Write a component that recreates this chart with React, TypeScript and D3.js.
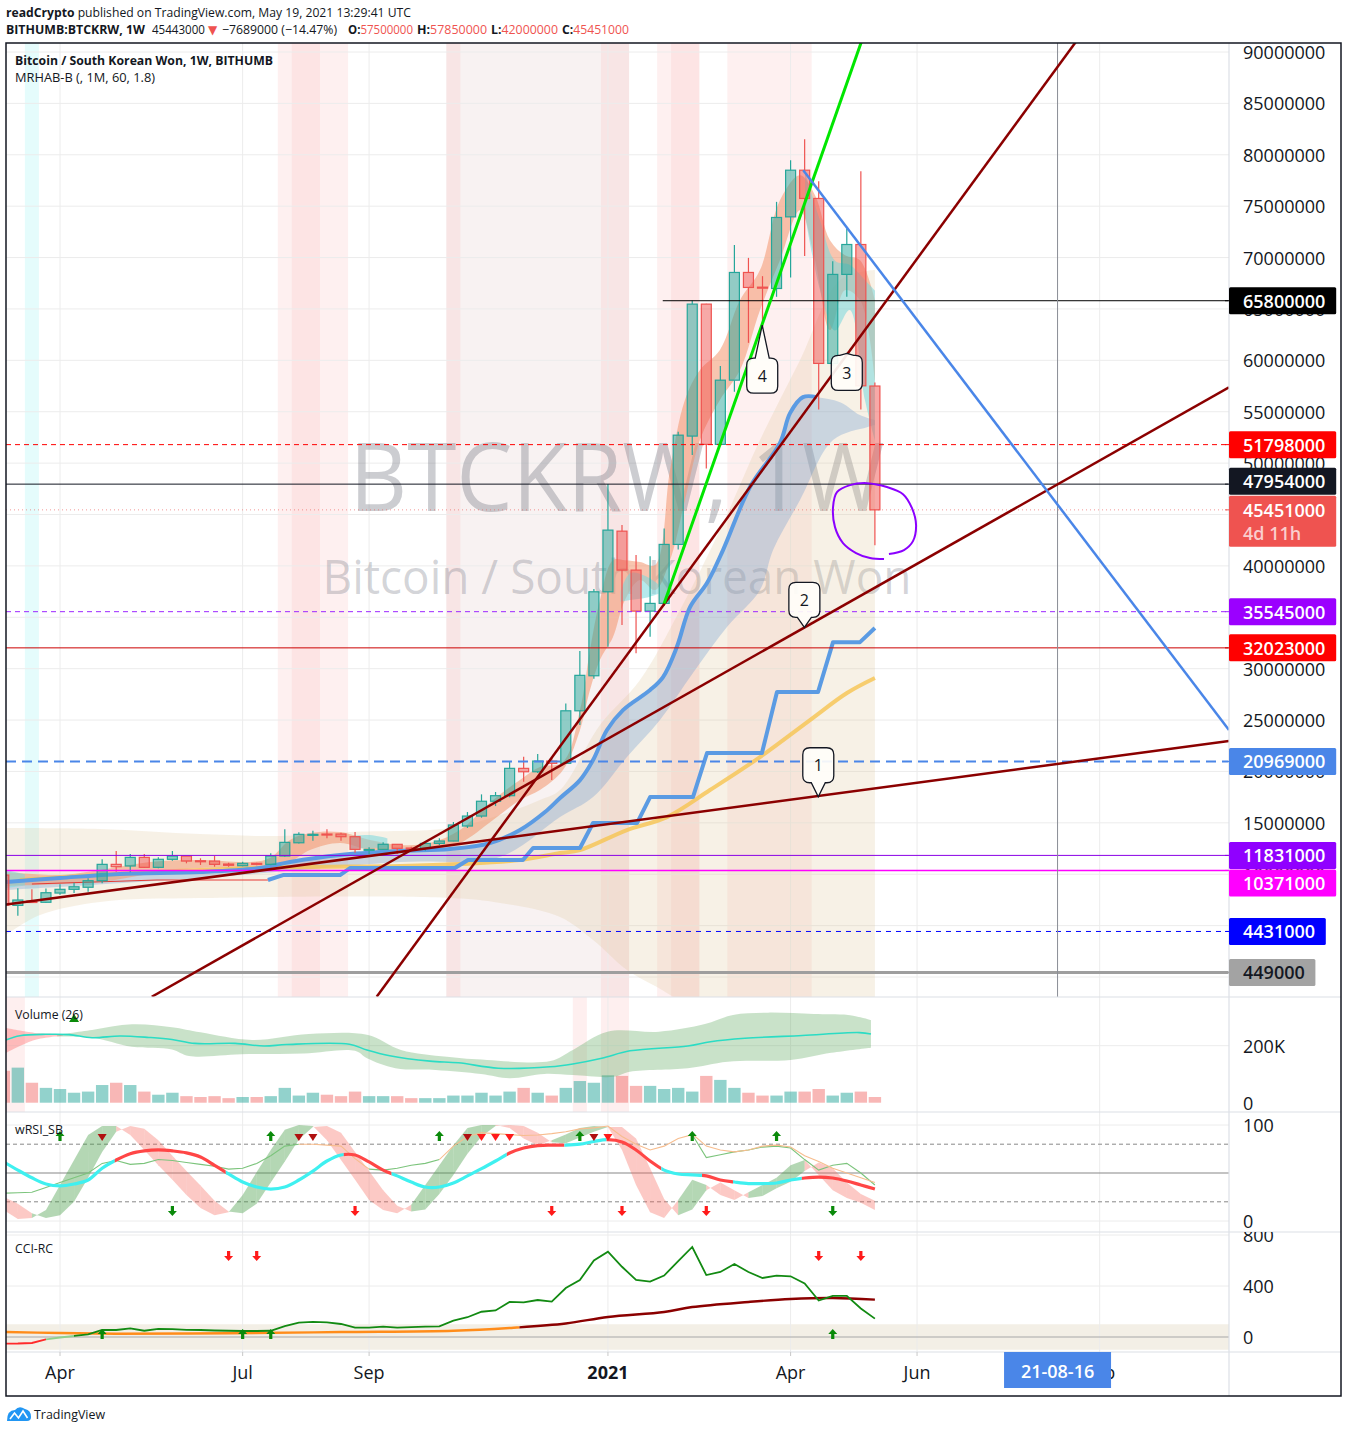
import React from "react";
import * as d3 from "d3";

// ======================= DATA =======================
// Weekly BITHUMB:BTCKRW candles; week 0 = 2020-03-09; prices in million KRW
const candleOpen = [9.92, 6.97, 7.39, 7.27, 8.17, 8.53, 8.73, 9.37, 10.96, 10.8, 11.64, 10.67, 11.45, 11.77, 11.31, 11.28, 10.99, 10.83, 11.06, 10.96, 11.77, 13.06, 13.84, 13.91, 13.91, 13.65, 12.38, 12.42, 12.91, 12.55, 12.52, 13.0, 13.23, 14.69, 15.66, 17.1, 17.64, 20.3, 19.97, 21.01, 20.79, 25.9, 29.31, 37.48, 43.38, 39.59, 35.6, 36.35, 42.09, 52.63, 65.47, 51.82, 58.07, 68.55, 67.12, 66.99, 73.96, 78.5, 75.75, 59.7, 68.36, 71.27, 57.5];
const candleHigh = [10.2, 8.63, 8.53, 8.61, 9.02, 9.17, 9.6, 11.45, 12.26, 11.96, 11.96, 11.64, 12.26, 11.77, 11.55, 11.77, 11.12, 11.22, 11.12, 12.03, 14.37, 14.08, 14.23, 14.37, 14.04, 14.1, 12.62, 13.1, 12.94, 12.68, 13.16, 13.49, 15.08, 16.05, 17.77, 18.0, 21.01, 21.43, 21.69, 21.3, 26.62, 31.71, 37.74, 47.96, 43.97, 41.05, 40.95, 43.65, 53.05, 65.81, 65.5, 59.44, 71.21, 69.97, 68.19, 75.42, 79.47, 81.52, 77.43, 69.65, 72.83, 78.4, 57.85];
const candleLow = [6.2, 5.96, 7.2, 7.2, 8.0, 8.17, 8.3, 9.11, 10.24, 10.18, 10.6, 10.57, 11.31, 11.06, 10.9, 10.73, 10.73, 10.77, 10.87, 10.87, 11.7, 13.0, 13.26, 13.49, 13.26, 12.09, 11.96, 12.35, 11.96, 12.35, 12.29, 12.84, 13.2, 14.5, 15.5, 16.63, 17.5, 19.0, 19.84, 19.16, 20.79, 24.51, 29.02, 32.13, 34.24, 31.49, 33.1, 36.09, 41.6, 50.78, 49.48, 51.65, 56.94, 61.7, 63.26, 66.18, 68.06, 70.14, 55.22, 59.44, 66.18, 55.22, 42.0];
const candleClose = [7.0, 7.49, 7.25, 8.2, 8.53, 8.78, 9.37, 10.96, 10.73, 11.64, 10.67, 11.45, 11.77, 11.28, 11.25, 10.96, 10.87, 11.06, 10.96, 11.77, 13.1, 13.88, 13.88, 13.84, 13.65, 12.42, 12.42, 12.91, 12.52, 12.52, 13.0, 13.23, 14.79, 15.66, 17.1, 17.64, 20.3, 19.97, 21.01, 20.79, 25.9, 29.35, 37.48, 43.48, 39.59, 35.6, 36.35, 42.09, 52.72, 65.47, 51.82, 58.07, 68.55, 67.09, 67.06, 73.9, 78.5, 75.75, 59.7, 68.36, 71.27, 57.52, 45.451];
// Volume in thousands
const volumeK = [112, 123, 70, 52, 48, 35, 39, 62, 70, 62, 39, 28, 35, 23, 20, 23, 16, 20, 20, 23, 52, 25, 35, 28, 23, 39, 23, 23, 23, 16, 16, 16, 25, 25, 35, 25, 39, 52, 35, 25, 52, 76, 70, 96, 94, 59, 59, 48, 52, 39, 94, 80, 52, 35, 25, 25, 39, 39, 48, 25, 35, 39, 20];

// axes
const priceTicks = [0, 5, 10, 15, 20, 25, 30, 35, 40, 45, 50, 55, 60, 65, 70, 75, 80, 85, 90];
const timeTickWeeks = [4, 17, 26, 43, 56, 65, 78];
const timeTickLabels = ["Apr", "Jul", "Sep", "2021", "Apr", "Jun", "Sep"];
const cursorWeek = 75;
const cursorLabel = "21-08-16";

// horizontal levels
const levelPrices = [65.8, 51.798, 47.954, 45.451, 35.545, 32.023, 20.969, 11.831, 10.371, 4.431, 0.449];
const levelLabels = ["65800000", "51798000", "47954000", "45451000", "35545000", "32023000", "20969000", "11831000", "10371000", "4431000", "449000"];
const levelStartWeek = [46.9, -2, -2, -2, -2, -2, -2, -2, -2, -2, -2];
const levelLineColors = ["#000000", "#ff0000", "#131722", "#ef5350", "#9c27ff", "#cc0000", "#4a86e8", "#8a00e6", "#ff00ff", "#0000ff", "#9e9e9e"];
const levelBoxColors = ["#000000", "#ff0000", "#131722", "#ef5350", "#9b00ff", "#ff0000", "#4a86e8", "#9000ff", "#ff00ff", "#0000ff", "#a3a3a3"];

// trend lines (week, price M)
const trendStartWeek = [0.157, 10.53, 26.54, 47.0, 56.9];
const trendStartPrice = [7.05, -1.92, -1.92, 36.35, 78.5];
const trendEndWeek = [87.2, 87.2, 76.5, 61.5, 87.2];
const trendEndPrice = [22.96, 57.37, 91.35, 92.79, 24.03];
const trendColors = ["#8b0000", "#8b0000", "#8b0000", "#00e600", "#4a86e8"];

// MRHAB-B bands
const tanUpW = [0.16, 6.85, 13.96, 19.66, 24.64, 31.76, 35.32, 38.16, 39.59, 42.43, 45.28, 48.13, 50.97, 53.82, 56.67, 59.52, 62.0];
const tanUpP = [14.49, 14.4, 13.91, 13.72, 14.1, 14.49, 15.76, 17.22, 18.19, 24.51, 28.89, 35.7, 43.48, 52.24, 60.02, 67.8, 68.78];
const tanLoW = [0.16, 2.58, 6.85, 13.96, 31.76, 35.32, 39.59, 41.94, 44.35, 46.49, 49.05, 62.0];
const tanLoP = [4.09, 6.03, 7.3, 7.68, 7.68, 7.2, 5.84, 3.6, 0.68, -0.97, -2.72, -3.21];

const blueW = [0.16, 4.0, 8.27, 13.96, 18.24, 20.37, 23.93, 28.2, 31.76, 34.6, 36.74, 38.52, 39.59, 41.01, 41.94, 42.93, 44.07, 46.0, 46.92, 47.9, 48.84, 50.05, 51.19, 53.11, 55.24, 55.96, 56.88, 57.88];
const blueP = [9.24, 9.63, 10.02, 10.21, 10.6, 11.19, 11.87, 12.26, 12.45, 13.03, 14.3, 16.05, 17.41, 19.16, 21.11, 24.03, 25.97, 27.92, 29.18, 32.1, 35.99, 38.33, 41.54, 47.67, 51.95, 54.86, 56.42, 56.42];
const blueBandExtW = [59.52, 60.94, 62.0];
const blueBandExtP = [55.93, 54.67, 54.18];
const blueLoW = [0.16, 13.96, 28.2, 35.3, 39.59, 41.94, 44.35, 46.7, 49.05, 51.47, 53.82, 54.75, 56.67, 59.02, 61.44, 62.0];
const blueLoP = [8.46, 9.63, 11.19, 11.67, 15.56, 17.51, 21.4, 25.0, 29.57, 34.05, 37.65, 41.54, 46.4, 52.24, 53.5, 53.7];

const salmonW = [0.16, 4.0, 6.85, 10.4, 13.96, 17.52, 18.95, 20.37, 21.79, 23.93, 26.06, 28.2, 30.33, 32.47, 34.82, 36.74, 38.16, 39.8, 41.01, 41.72, 42.43, 43.36, 44.21, 45.28, 46.35, 47.42, 48.48, 49.55, 50.97, 52.4, 53.82, 55.24, 56.67, 57.74, 58.8, 59.87, 60.94, 62.0];
const salmonHi = [10.21, 9.92, 10.41, 11.19, 11.38, 11.19, 11.58, 13.33, 14.0, 14.1, 13.33, 12.84, 13.03, 14.3, 17.22, 19.16, 20.43, 20.91, 25.97, 31.8, 36.67, 40.56, 40.56, 40.37, 40.08, 49.32, 56.13, 59.05, 61.0, 65.86, 68.78, 75.58, 78.02, 76.07, 71.69, 70.23, 69.75, 65.86];
const salmonLo = [8.85, 9.05, 9.24, 10.02, 10.6, 10.6, 10.8, 11.19, 12.35, 13.03, 12.35, 12.16, 12.35, 13.03, 15.27, 17.22, 18.19, 20.14, 24.03, 27.92, 30.84, 33.07, 36.67, 38.62, 37.65, 40.56, 46.4, 52.24, 56.13, 59.05, 64.88, 69.75, 74.61, 69.75, 62.94, 66.83, 65.86, 58.07];

const cyanW = [[0.16, 1.5], [24.64, 26.06, 27.3], [43.9, 44.6, 45.7, 46.6], [57.03, 58.1, 59.16, 60.2, 61.3, 62.0]];
const cyanHi = [[10.41, 10.0], [13.72, 13.82, 13.5], [37.5, 39.3, 39.0, 38.2], [78.3, 73.6, 69.7, 69.3, 67.8, 66.8]];
const cyanLo = [[8.66, 8.9], [12.45, 12.55, 12.6], [36.5, 36.67, 36.9, 37.3], [74.1, 66.8, 62.9, 64.9, 56.1, 52.2]];

const yellowW = [1.15, 6.85, 13.96, 21.08, 28.2, 32.47, 36.74, 39.59, 41.01, 44.35, 47.2, 50.26, 53.82, 57.38, 60.01, 62.0];
const yellowP = [9.44, 9.92, 10.41, 10.7, 10.8, 10.99, 11.38, 12.06, 12.35, 14.3, 15.56, 18.19, 21.4, 25.0, 27.63, 29.09];
const stepW = [18.8, 19.87, 23.93, 24.64, 32.11, 33.04, 36.95, 37.67, 41.01, 41.94, 45.07, 46.0, 49.05, 50.05, 53.96, 55.03, 57.95, 59.02, 60.94, 62.0];
const stepP = [9.44, 9.92, 9.92, 10.6, 10.6, 11.38, 11.38, 12.55, 12.55, 14.98, 14.98, 17.51, 17.51, 21.79, 21.79, 27.72, 27.72, 32.58, 32.58, 33.95];
const redThinW = [2.0, 10.9, 18.8];
const redThinP = [9.05, 9.44, 9.44];

// background highlight columns (week ranges)
const bgBandStart = [19.5, 20.5, 31.5, 31.5, 42.5, 46.5, 47.5, 51.5];
const bgBandEnd = [24.5, 22.5, 44.5, 32.5, 44.5, 49.5, 49.5, 57.5];
const cyanColStart = [1.5];
const cyanColEnd = [2.5];
const volBgStart = [-0.5, 40.5, 42.5];
const volBgEnd = [1.5, 41.5, 44.5];

// drawings
const calloutLabels = ["1", "2", "3", "4"];
const calloutWeeks = [57.97, 56.98, 60.0, 53.98];
const calloutPrices = [17.54, 34.02, 60.67, 63.42];
const calloutBelow = [false, false, true, true];
const calloutStem = [14, 10, 2, 33];
const ellipseW = [62.65, 61.65, 60.66, 59.73, 59.16, 59.02, 59.3, 60.23, 61.44, 62.86, 64.0, 64.64, 64.93, 64.71, 64.07, 63.0];
const ellipseP = [40.66, 40.76, 41.25, 42.22, 43.77, 45.72, 47.18, 47.86, 48.05, 47.67, 46.98, 45.62, 43.97, 42.41, 41.54, 41.15];

// volume indicator
const volMaW = [0.14, 1.15, 3.0, 4.64, 6.28, 8.27, 10.33, 11.97, 13.6, 16.46, 18.52, 20.12, 24.6, 25.84, 27.47, 30.33, 32.36, 35.2, 38.88, 40.5, 42.56, 44.57, 48.68, 50.3, 52.75, 56.83, 60.9, 61.72];
const volMaV = [220, 235, 240, 239, 228, 234, 229, 222, 208, 208, 199, 204, 205, 185, 165, 146, 140, 121, 126, 136, 156, 182, 199, 214, 226, 236, 246, 241];
const volBandUpW = [3.8, 6.28, 9.12, 11.97, 14.0, 17.67, 21.72, 25.85, 28.27, 31.54, 34.4, 38.9, 40.5, 42.96, 46.63, 49.9, 51.9, 54.4, 57.66, 60.1, 61.72];
const volBandUpV = [238, 255, 275, 265, 247, 220, 241, 238, 185, 161, 150, 146, 185, 249, 249, 276, 308, 316, 311, 308, 290];
const volBandLoW = [3.8, 6.28, 9.12, 11.97, 13.18, 16.9, 21.35, 25.0, 25.85, 27.87, 30.73, 33.97, 36.0, 38.48, 40.5, 43.36, 44.57, 48.68, 51.53, 56.0, 58.9, 61.72];
const volBandLoV = [232, 229, 196, 187, 164, 170, 173, 182, 156, 121, 115, 101, 86, 101, 97, 91, 109, 121, 144, 150, 175, 193];
const volRedW = [0.14, 2.2, 4.2];
const volRedHi = [262, 245, 241];
const volRedLo = [174, 220, 235];
const volTriWeeks = [5];

// wRSI_SB
const rsiMain = [61.5, 53, 45, 38.5, 36.5, 38.5, 42.7, 55, 63.5, 70, 73, 74, 73, 71, 66.7, 58, 49, 40.6, 35.4, 33.3, 35.4, 42.7, 52, 62.5, 68.75, 68.75, 61.5, 53, 47, 40.6, 35.4, 35.4, 39.6, 47, 54.5, 62.5, 70.8, 76, 78.6, 79, 79, 80, 82.8, 84.7, 82.3, 74, 62.5, 53, 49, 48, 47, 42.7, 40.6, 39, 39, 39.6, 42.7, 44.8, 45.8, 44.8, 41.7, 37.5, 33.3];
const rsiMainBreaks = [0, 7.9, 15.8, 24.2, 27.6, 35.8, 39.9, 42.9, 46.8, 49.7, 51.9, 56.8, 62];
const rsiK = [11.5, 2, 3, 11.5, 37.5, 63.5, 89.6, 99, 99, 89.6, 74, 58, 43, 27, 13.5, 6, 9, 27, 51, 74, 95, 100, 99, 84, 63.5, 43, 22, 11.5, 8, 17, 37.5, 58, 79, 97, 100, 100, 97, 86, 79, 84, 90, 97, 99, 98, 74, 37.5, 9, 3, 22, 43, 37.5, 27, 22, 30, 37.5, 45, 58, 63.5, 48, 32, 24, 19, 11.5];
const rsiD = [25, 18, 8, 3, 6, 20, 45, 72, 93, 99, 96, 84, 68, 52, 37, 21, 10, 8, 18, 40, 62, 85, 98, 99, 92, 72, 52, 32, 16, 10, 12, 28, 48, 70, 88, 99, 100, 99, 92, 82, 81, 87, 93, 98, 98, 86, 55, 23, 6, 12, 32, 40, 32, 24, 26, 34, 41, 52, 61, 55, 40, 28, 21];
const rsiThin = [29, 29.5, 30, 35, 40, 45, 50, 60, 63, 59, 60, 64, 63, 61, 59, 57, 54, 55, 60, 68, 78, 80, 80, 79, 78, 65, 54, 53, 55, 58, 60, 64, 78, 88, 92, 91, 90, 89, 89.6, 91, 93, 96, 97, 99, 88, 80, 74, 78, 86, 90, 66, 69, 72, 74, 77, 78, 76, 64, 53, 58, 60, 50, 37.5];
const rsiThinBreaks = [0, 21, 26, 31, 49, 62];
const rsiThin2W = [49, 50, 51, 52, 53, 54, 55, 56, 57, 58, 59, 60, 61, 62];
const rsiThin2 = [90.6, 78, 74, 72, 74, 78, 79, 77, 68, 62, 55, 50, 45, 40];
const rsiUpArrowWeeks = [4, 19, 31, 41, 49, 55];
const rsiTopTriWeeks = [7, 21, 22, 33, 34, 35, 36, 42, 43];
const rsiBottomGreenWeeks = [12, 59];
const rsiBottomRedWeeks = [25, 39, 44, 50];

// CCI-RC
const cciVals = [-52, -51, -47, -18, -4, 8, 20, 55, 55, 68, 49, 64, 61, 56, 55, 51, 49, 47, 47, 49, 86, 112, 118, 114, 102, 73, 73, 81, 73, 78, 82, 84, 128, 155, 198, 208, 275, 271, 290, 278, 384, 447, 600, 669, 551, 447, 435, 482, 596, 706, 486, 510, 573, 510, 463, 482, 476, 420, 286, 322, 322, 224, 144];
const cciBreaks = [0, 3, 5, 62];
const cciSigW = [0, 4, 8, 16, 24, 32, 36, 40, 43, 47, 49, 53, 56, 59, 62];
const cciSigV = [39, 31, 26, 29, 39, 49, 71, 106, 157, 196, 235, 275, 298, 306, 293];
const cciSigBreaks = [0, 36.7, 62];
const cciRedDownWeeks = [16, 18, 58, 61];
const cciGreenUpWeeks = [7, 17, 19, 59];

// ======================= STYLE =======================
const FONT = "'Open Sans', 'DejaVu Sans', Arial, sans-serif";
const TXT = "#131722";
const UP_F = "rgba(38,166,154,0.5)";
const UP_S = "#26a69a";
const DN_F = "rgba(239,83,80,0.5)";
const DN_S = "#ef5350";
const L = 6, R = 1229, RB = 1341;
const MT = 43, MB = 997, VB = 1112, RSB = 1232, CB = 1352, AB = 1396;

export default function App() {
  const x = d3.scaleLinear().domain([0, 1]).range([3.8, 17.85]);
  const y = d3.scaleLinear().domain([0, 90]).range([977, 52]);
  const yV = d3.scaleLinear().domain([0, 200]).range([1102.7, 1045.7]);
  const yR = d3.scaleLinear().domain([0, 100]).range([1221, 1125]);
  const yC = d3.scaleLinear().domain([0, 400]).range([1337, 1286]);

  const smooth = d3.line().curve(d3.curveCatmullRom.alpha(0.5));
  const straight = d3.line();
  const pts = (ws, vs, sc) => ws.map((w, i) => [x(w), sc(vs[i])]);
  const poly = (a, b) => {
    const s1 = smooth(a);
    const s2 = smooth(b.slice().reverse());
    return s1 + "L" + s2.slice(1) + "Z";
  };
  const area = (ws, hi, lo, sc) =>
    d3.area().x((d) => x(d[0])).y0((d) => sc(d[2])).y1((d) => sc(d[1])).curve(d3.curveCatmullRom.alpha(0.5))(
      ws.map((w, i) => [w, hi[i], lo[i]])
    );

  const segClips = (prefix, breaks, top, h) =>
    breaks.slice(0, -1).map((b, k) => {
      const x0 = k === 0 ? L : x(b);
      const x1 = k === breaks.length - 2 ? R : x(breaks[k + 1]);
      return (
        <clipPath key={prefix + k} id={prefix + k}>
          <rect x={x0} y={top} width={x1 - x0} height={h} />
        </clipPath>
      );
    });

  const weeks = d3.range(candleOpen.length);

  const rsiMainPath = smooth(weeks.map((i) => [x(i), yR(rsiMain[i])]));
  const rsiThinPath = straight(weeks.map((i) => [x(i), yR(rsiThin[i])]));
  const rsiThin2Path = straight(pts(rsiThin2W, rsiThin2, yR));
  const cciPath = straight(weeks.map((i) => [x(i), yC(cciVals[i])]));
  const cciSigPath = smooth(pts(cciSigW, cciSigV, yC));

  const rsiColors = ["#3ff0f0", "#ff4646"];
  const thinColors = ["#7cc47c", "#f7bd8e", "#7cc47c", "#f7bd8e", "#7cc47c"];
  const cciColors = ["#ff2a2a", "#8fd18f", "#128a12"];
  const cciSigColors = ["#ff8c1a", "#8b0000"];

  const calloutPath = (tx, ty, stem, below) => {
    const w = 31, h = 35, r = 7, hw = w / 2, nb = 7;
    const x0 = tx - hw, x1 = tx + hw;
    if (!below) {
      const yb = ty - stem, yt = yb - h;
      return `M${x0 + r},${yt}H${x1 - r}Q${x1},${yt} ${x1},${yt + r}V${yb - r}Q${x1},${yb} ${x1 - r},${yb}H${tx + nb}L${tx},${ty}L${tx - nb},${yb}H${x0 + r}Q${x0},${yb} ${x0},${yb - r}V${yt + r}Q${x0},${yt} ${x0 + r},${yt}Z`;
    }
    const yt = ty + stem, yb = yt + h;
    return `M${x0 + r},${yt}H${tx - nb}L${tx},${ty}L${tx + nb},${yt}H${x1 - r}Q${x1},${yt} ${x1},${yt + r}V${yb - r}Q${x1},${yb} ${x1 - r},${yb}H${x0 + r}Q${x0},${yb} ${x0},${yb - r}V${yt + r}Q${x0},${yt} ${x0 + r},${yt}Z`;
  };

  const upArrow = (cx, ty, color, key) => (
    <path key={key} d={`M${cx - 4.5},${ty + 5}L${cx},${ty}L${cx + 4.5},${ty + 5}H${cx + 1.6}V${ty + 10}H${cx - 1.6}V${ty + 5}Z`} fill={color} />
  );
  const downArrow = (cx, ty, color, key) => (
    <path key={key} d={`M${cx - 1.6},${ty}H${cx + 1.6}V${ty + 5}H${cx + 4.5}L${cx},${ty + 10}L${cx - 4.5},${ty + 5}H${cx - 1.6}Z`} fill={color} />
  );
  const downTri = (cx, ty, color, key) => (
    <path key={key} d={`M${cx - 4.5},${ty}H${cx + 4.5}L${cx},${ty + 7}Z`} fill={color} />
  );

  const gridColor = "#ececec";

  return (
    <svg width={1348} height={1433} style={{ position: "absolute", left: 0, top: 0, background: "#fff" }} fontFamily={FONT}>
      <defs>
        <clipPath id="cMain"><rect x={L} y={MT} width={R - L} height={MB - MT} /></clipPath>
        <clipPath id="cVol"><rect x={L} y={MB} width={R - L} height={VB - MB} /></clipPath>
        <clipPath id="cRsi"><rect x={L} y={VB} width={R - L} height={RSB - VB} /></clipPath>
        <clipPath id="cCci"><rect x={L} y={RSB} width={R - L} height={CB - RSB} /></clipPath>
        <clipPath id="cAxisC"><rect x={R} y={RSB} width={RB - R} height={CB - RSB} /></clipPath>
        {segClips("rsiSeg", rsiMainBreaks, VB, RSB - VB)}
        {segClips("thinSeg", rsiThinBreaks, VB, RSB - VB)}
        {segClips("cciSeg", cciBreaks, RSB, CB - RSB)}
        {segClips("sigSeg", cciSigBreaks, RSB, CB - RSB)}
      </defs>
      <rect x={0} y={0} width={1348} height={1433} fill="#fff" />

      {/* ===== header ===== */}
      <text x={6} y={17} fontSize={12.5} fill={TXT} textLength={405} lengthAdjust="spacingAndGlyphs">
        <tspan fontWeight={700}>readCrypto</tspan> published on TradingView.com, May 19, 2021 13:29:41 UTC
      </text>
      <g fontSize={12.5} fill={TXT}>
        <text x={6} y={34} fontWeight={700} textLength={139} lengthAdjust="spacingAndGlyphs">BITHUMB:BTCKRW, 1W</text>
        <text x={152} y={34} textLength={53} lengthAdjust="spacingAndGlyphs">45443000</text>
        <text x={208} y={34} fill="#ef5350" fontSize={12}>▼</text>
        <text x={222} y={34} textLength={115} lengthAdjust="spacingAndGlyphs">−7689000 (−14.47%)</text>
        <text x={348} y={34} textLength={65} lengthAdjust="spacingAndGlyphs"><tspan fontWeight={700}>O:</tspan><tspan fill="#ef5350">57500000</tspan></text>
        <text x={417} y={34} textLength={70} lengthAdjust="spacingAndGlyphs"><tspan fontWeight={700}>H:</tspan><tspan fill="#ef5350">57850000</tspan></text>
        <text x={491} y={34} textLength={67} lengthAdjust="spacingAndGlyphs"><tspan fontWeight={700}>L:</tspan><tspan fill="#ef5350">42000000</tspan></text>
        <text x={562} y={34} textLength={67} lengthAdjust="spacingAndGlyphs"><tspan fontWeight={700}>C:</tspan><tspan fill="#ef5350">45451000</tspan></text>
      </g>

      {/* ===== MAIN PANE ===== */}
      <g clipPath="url(#cMain)">
        {bgBandStart.map((s, k) => (
          <rect key={"bg" + k} x={x(s)} y={MT} width={x(bgBandEnd[k]) - x(s)} height={MB - MT} fill={k === 2 ? "rgba(215,180,180,0.17)" : "rgba(250,180,180,0.2)"} />
        ))}
        {cyanColStart.map((s, k) => (
          <rect key={"cc" + k} x={x(s)} y={MT} width={x(cyanColEnd[k]) - x(s)} height={MB - MT} fill="rgba(170,245,245,0.3)" />
        ))}
        {priceTicks.map((p) => (
          <line key={"hg" + p} x1={L} x2={R} y1={y(p)} y2={y(p)} stroke={gridColor} />
        ))}
        {timeTickWeeks.map((w) => (
          <line key={"vg" + w} x1={x(w)} x2={x(w)} y1={MT} y2={MB} stroke={gridColor} />
        ))}

        {/* watermark */}
        <text x={617} y={511} textAnchor="middle" fontSize={95} fill="rgba(120,123,134,0.38)" textLength={535} lengthAdjust="spacingAndGlyphs">BTCKRW, 1W</text>
        <text x={617} y={594} textAnchor="middle" fontSize={47} fill="rgba(120,123,134,0.33)" textLength={589} lengthAdjust="spacingAndGlyphs">Bitcoin / South Korean Won</text>

        {/* bands */}
        <path d={poly(pts(tanUpW, tanUpP, y), pts(tanLoW, tanLoP, y))} fill="rgba(222,196,150,0.24)" />
        <path d={poly(pts(blueW.concat(blueBandExtW), blueP.concat(blueBandExtP), y), pts(blueLoW, blueLoP, y))} fill="rgba(100,150,210,0.3)" />
        <path d={area(salmonW, salmonHi, salmonLo, y)} fill="rgba(243,150,110,0.55)" />
        {cyanW.map((ws, k) => (
          <path key={"cy" + k} d={area(ws, cyanHi[k], cyanLo[k], y)} fill="rgba(120,215,220,0.55)" />
        ))}
        <path d={straight(pts(redThinW, redThinP, y))} fill="none" stroke="#e53935" strokeWidth={1.2} />
        <path d={smooth(pts(yellowW, yellowP, y))} fill="none" stroke="rgba(246,196,80,0.8)" strokeWidth={4} />
        <path d={straight(pts(stepW, stepP, y))} fill="none" stroke="#5b9be3" strokeWidth={4} strokeLinejoin="round" />
        <path d={smooth(pts(blueW, blueP, y))} fill="none" stroke="#5b9be3" strokeWidth={4} strokeLinejoin="round" />

        {/* candles */}
        {weeks.map((i) => {
          const up = candleClose[i] >= candleOpen[i];
          const cx = x(i);
          const yo = y(candleOpen[i]), yc = y(candleClose[i]);
          const top = Math.min(yo, yc), bot = Math.max(yo, yc);
          const h = Math.max(1, bot - top);
          const s = up ? UP_S : DN_S;
          return (
            <g key={"c" + i}>
              <line x1={cx} x2={cx} y1={y(candleHigh[i])} y2={top} stroke={s} strokeWidth={1.2} />
              <line x1={cx} x2={cx} y1={top + h} y2={y(candleLow[i])} stroke={s} strokeWidth={1.2} />
              <rect x={cx - 5} y={top} width={10} height={h} fill={up ? UP_F : DN_F} stroke={s} strokeWidth={1.2} />
            </g>
          );
        })}

        {/* horizontal levels */}
        {levelPrices.map((p, k) => (
          <line key={"lv" + k} x1={Math.max(L, x(levelStartWeek[k]))} x2={R} y1={y(p)} y2={y(p)}
            stroke={levelLineColors[k]}
            strokeWidth={k === 10 ? 3 : k === 6 ? 2 : k === 8 ? 1.5 : 1}
            strokeDasharray={k === 1 || k === 4 ? "5 4" : k === 3 ? "1 3" : k === 6 ? "10 6" : k === 9 ? "5 5" : undefined}
            opacity={k === 3 ? 0.6 : 1} />
        ))}
        <line x1={x(cursorWeek)} x2={x(cursorWeek)} y1={MT} y2={MB} stroke="#8a8d96" strokeWidth={1} />

        {/* trend lines */}
        {trendStartWeek.map((w, k) => (
          <line key={"tl" + k} x1={x(w)} y1={y(trendStartPrice[k])} x2={x(trendEndWeek[k])} y2={y(trendEndPrice[k])}
            stroke={trendColors[k]} strokeWidth={k === 3 ? 3 : 2.5} />
        ))}

        {/* callouts */}
        {calloutLabels.map((lab, k) => {
          const tx = x(calloutWeeks[k]), ty = y(calloutPrices[k]);
          const below = calloutBelow[k];
          const cy = below ? ty + calloutStem[k] + 17.5 : ty - calloutStem[k] - 17.5;
          return (
            <g key={"co" + k}>
              <path d={calloutPath(tx, ty, calloutStem[k], below)} fill="rgba(255,254,250,0.92)" stroke={TXT} strokeWidth={1.3} />
              <text x={tx} y={cy} textAnchor="middle" dominantBaseline="central" fontSize={16} fill={TXT}>{lab}</text>
            </g>
          );
        })}
        <path d={smooth(pts(ellipseW, ellipseP, y))} fill="none" stroke="#8b00ff" strokeWidth={2} />
      </g>

      {/* legend */}
      <text x={15} y={65} fontSize={12.5} fontWeight={700} fill={TXT} textLength={258} lengthAdjust="spacingAndGlyphs">Bitcoin / South Korean Won, 1W, BITHUMB</text>
      <text x={15} y={82} fontSize={12.5} fill={TXT} textLength={140} lengthAdjust="spacingAndGlyphs">MRHAB-B (, 1M, 60, 1.8)</text>

      {/* ===== VOLUME PANE ===== */}
      <g clipPath="url(#cVol)">
        {volBgStart.map((s, k) => (
          <rect key={"vb" + k} x={x(s)} y={MB} width={x(volBgEnd[k]) - x(s)} height={VB - MB} fill="rgba(250,180,180,0.22)" />
        ))}
        <line x1={L} x2={R} y1={yV(200)} y2={yV(200)} stroke={gridColor} />
        {timeTickWeeks.map((w) => (
          <line key={"vvg" + w} x1={x(w)} x2={x(w)} y1={MB} y2={VB} stroke={gridColor} />
        ))}
        {weeks.map((i) => (
          <rect key={"v" + i} x={x(i) - 6.2} y={yV(volumeK[i])} width={12.4} height={yV(0) - yV(volumeK[i])}
            fill={candleClose[i] >= candleOpen[i] ? "rgba(38,166,154,0.5)" : "rgba(239,83,80,0.42)"} />
        ))}
        <path d={poly(pts(volBandUpW, volBandUpV, yV), pts(volBandLoW, volBandLoV, yV))} fill="rgba(76,160,76,0.3)" />
        <path d={area(volRedW, volRedHi, volRedLo, yV)} fill="rgba(255,90,90,0.35)" />
        <path d={smooth(pts(volMaW, volMaV, yV))} fill="none" stroke="#2bdcc4" strokeWidth={1.6} />
        {volTriWeeks.map((w) => (
          <path key={"vt" + w} d={`M${x(w) - 5},1022L${x(w)},1014L${x(w) + 5},1022Z`} fill="#0a8a0a" />
        ))}
      </g>
      <text x={15} y={1019} fontSize={12.5} fill={TXT} textLength={68} lengthAdjust="spacingAndGlyphs">Volume (26)</text>

      {/* ===== wRSI PANE ===== */}
      <g clipPath="url(#cRsi)">
        <line x1={L} x2={R} y1={yR(100)} y2={yR(100)} stroke={gridColor} />
        <line x1={L} x2={R} y1={yR(0)} y2={yR(0)} stroke={gridColor} />
        {timeTickWeeks.map((w) => (
          <line key={"rvg" + w} x1={x(w)} x2={x(w)} y1={VB} y2={RSB} stroke={gridColor} />
        ))}
        <line x1={L} x2={R} y1={yR(80)} y2={yR(80)} stroke="#888" strokeDasharray="4 3" />
        <line x1={L} x2={R} y1={yR(20)} y2={yR(20)} stroke="#888" strokeDasharray="4 3" />
        <line x1={L} x2={R} y1={yR(50)} y2={yR(50)} stroke="#888" strokeWidth={1.2} />
        {weeks.slice(0, -1).map((i) => {
          const up = rsiK[i] + rsiK[i + 1] >= rsiD[i] + rsiD[i + 1];
          const d = `M${x(i)},${yR(rsiK[i])}L${x(i + 1)},${yR(rsiK[i + 1])}L${x(i + 1)},${yR(rsiD[i + 1])}L${x(i)},${yR(rsiD[i])}Z`;
          return <path key={"rb" + i} d={d} fill={up ? "rgba(76,160,76,0.42)" : "rgba(245,100,90,0.35)"} />;
        })}
        {rsiThinBreaks.slice(0, -1).map((b, k) => (
          <path key={"th" + k} d={rsiThinPath} fill="none" stroke={thinColors[k]} strokeWidth={1.1} clipPath={`url(#thinSeg${k})`} />
        ))}
        <path d={rsiThin2Path} fill="none" stroke="#f7bd8e" strokeWidth={1.1} />
        {rsiMainBreaks.slice(0, -1).map((b, k) => (
          <path key={"rm" + k} d={rsiMainPath} fill="none" stroke={rsiColors[k % 2]} strokeWidth={3.2} clipPath={`url(#rsiSeg${k})`} />
        ))}
        {rsiUpArrowWeeks.map((w) => upArrow(x(w), 1131, "#0a8a0a", "ua" + w))}
        {rsiTopTriWeeks.map((w, k) => downTri(x(w), 1134, k < 4 || k === 7 ? "#b01010" : "#ff1a1a", "dt" + w))}
        {rsiBottomGreenWeeks.map((w) => downArrow(x(w), 1206, "#0a8a0a", "bg" + w))}
        {rsiBottomRedWeeks.map((w) => downArrow(x(w), 1206, "#ff1a1a", "br" + w))}
      </g>
      <text x={15} y={1134} fontSize={12.5} fill={TXT} textLength={48} lengthAdjust="spacingAndGlyphs">wRSI_SB</text>

      {/* ===== CCI PANE ===== */}
      <g clipPath="url(#cCci)">
        <rect x={L} y={yC(100)} width={R - L} height={yC(-100) - yC(100)} fill="#f3efe6" />
        <line x1={L} x2={R} y1={yC(800)} y2={yC(800)} stroke={gridColor} />
        <line x1={L} x2={R} y1={yC(400)} y2={yC(400)} stroke={gridColor} />
        {timeTickWeeks.map((w) => (
          <line key={"cvg" + w} x1={x(w)} x2={x(w)} y1={RSB} y2={CB} stroke={gridColor} />
        ))}
        <line x1={L} x2={R} y1={yC(0)} y2={yC(0)} stroke="#a8a8a8" strokeWidth={1.2} />
        {cciSigBreaks.slice(0, -1).map((b, k) => (
          <path key={"cs" + k} d={cciSigPath} fill="none" stroke={cciSigColors[k]} strokeWidth={2.4} clipPath={`url(#sigSeg${k})`} />
        ))}
        {cciBreaks.slice(0, -1).map((b, k) => (
          <path key={"cl" + k} d={cciPath} fill="none" stroke={cciColors[k]} strokeWidth={1.8} clipPath={`url(#cciSeg${k})`} />
        ))}
        {cciRedDownWeeks.map((w) => downArrow(x(w), 1251, "#ff1a1a", "cr" + w))}
        {cciGreenUpWeeks.map((w) => upArrow(x(w), 1329, "#0a8a0a", "cg" + w))}
      </g>
      <text x={15} y={1253} fontSize={12.5} fill={TXT} textLength={38} lengthAdjust="spacingAndGlyphs">CCI-RC</text>

      {/* ===== separators & frame ===== */}
      {[MB, VB, RSB, CB].map((yy) => (
        <line key={"sep" + yy} x1={L} x2={RB} y1={yy} y2={yy} stroke="#dcdfe6" strokeWidth={1.2} />
      ))}
      <line x1={R} x2={R} y1={MT} y2={AB} stroke="#dcdfe6" strokeWidth={1.2} />

      {/* ===== right axis ===== */}
      <g fontSize={18} fill={TXT}>
        {priceTicks.map((p) => (
          <text key={"pt" + p} x={1243} y={y(p)} dominantBaseline="central">{p === 0 ? "0" : String(p * 1000000)}</text>
        ))}
        <text x={1243} y={yV(200)} dominantBaseline="central">200K</text>
        <text x={1243} y={yV(0)} dominantBaseline="central">0</text>
        <text x={1243} y={yR(100)} dominantBaseline="central">100</text>
        <text x={1243} y={yR(0)} dominantBaseline="central">0</text>
        <g clipPath="url(#cAxisC)">
          <text x={1243} y={yC(800)} dominantBaseline="central">800</text>
        </g>
        <text x={1243} y={yC(400)} dominantBaseline="central">400</text>
        <text x={1243} y={yC(0)} dominantBaseline="central">0</text>
      </g>
      {levelPrices.map((p, k) => {
        const len = levelLabels[k].length;
        const w = 24 + 10.4 * len;
        const shift = k === 8 ? 12.6 : k === 2 ? -3 : 0;
        const two = k === 3;
        const cy = y(p) + shift;
        const top = two ? y(p) - 14 : cy - 13.5;
        const h = two ? 51 : 27;
        const tc = k === 10 ? TXT : "#ffffff";
        return (
          <g key={"lb" + k}>
            <line x1={R - 4} x2={R} y1={y(p)} y2={y(p)} stroke={levelLineColors[k]} />
            <rect x={R} y={top} width={w} height={h} fill={levelBoxColors[k]} rx={1.5} />
            <text x={1243} y={cy} dominantBaseline="central" fontSize={18} fontWeight={600} fill={tc}>{levelLabels[k]}</text>
            {two && (
              <text x={1243} y={y(p) + 23.5} dominantBaseline="central" fontSize={18} fontWeight={600} fill="rgba(255,255,255,0.72)">4d 11h</text>
            )}
          </g>
        );
      })}

      {/* ===== time axis ===== */}
      <g fontSize={18} fill={TXT}>
        {timeTickWeeks.map((w, k) => (
          <g key={"tt" + k}>
            <line x1={x(w)} x2={x(w)} y1={CB} y2={CB + 4} stroke="#c8c8c8" />
            <text x={x(w)} y={1372} textAnchor="middle" dominantBaseline="central" fontWeight={timeTickLabels[k] === "2021" ? 700 : 400}>{timeTickLabels[k]}</text>
          </g>
        ))}
      </g>
      <rect x={x(cursorWeek) - 53.5} y={CB} width={107} height={36} fill="#4a86e8" />
      <text x={x(cursorWeek)} y={1371} textAnchor="middle" dominantBaseline="central" fontSize={18} fontWeight={600} fill="#fff">{cursorLabel}</text>

      {/* frame */}
      <rect x={L} y={MT} width={RB - L} height={AB - MT} fill="none" stroke={TXT} strokeWidth={1.5} />

      {/* footer logo */}
      <path d="M7,1421 Q7,1410 15,1410 Q19,1405 25,1409 Q31,1410 31,1417 Q31,1421 27,1421 Z" fill="#2196f3" />
      <path d="M10,1419 L14.5,1413 L18.5,1418 L23,1411 L27.5,1418" fill="none" stroke="#fff" strokeWidth={1.6} />
      <text x={34} y={1419} fontSize={12} fill={TXT} textLength={71} lengthAdjust="spacingAndGlyphs">TradingView</text>
    </svg>
  );
}
